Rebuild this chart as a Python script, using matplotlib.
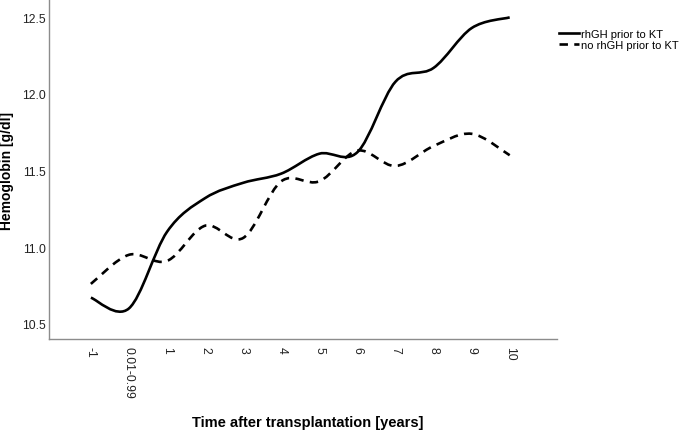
import matplotlib
matplotlib.use("Agg")
import matplotlib.pyplot as plt
from matplotlib.path import Path
from matplotlib.patches import PathPatch
from matplotlib.lines import Line2D
import numpy as np

plt.rcParams["font.family"] = ["Liberation Sans", "DejaVu Sans"]

categorias = ["-1", "0.01-0.99", "1", "2", "3", "4", "5", "6", "7", "8", "9", "10"]
con_rhgh = [10.67, 10.60, 11.10, 11.32, 11.42, 11.48, 11.61, 11.62, 12.08, 12.17, 12.43, 12.50]
sin_rhgh = [10.76, 10.95, 10.91, 11.14, 11.06, 11.43, 11.43, 11.63, 11.53, 11.66, 11.74, 11.60]


def curva_suave(xs, ys):
    # spline tipo Catmull-Rom como curvas bezier cubicas
    p = np.column_stack([xs, ys]).astype(float)
    p_ext = np.vstack([p[0], p, p[-1]])
    verts = [p[0]]
    codes = [Path.MOVETO]
    for i in range(len(p) - 1):
        p0, p1, p2, p3 = p_ext[i], p_ext[i + 1], p_ext[i + 2], p_ext[i + 3]
        c1 = p1 + (p2 - p0) / 6
        c2 = p2 - (p3 - p1) / 6
        verts += [c1, c2, p2]
        codes += [Path.CURVE4] * 3
    return Path(verts, codes)


x = np.arange(len(categorias))
fig = plt.figure(figsize=(6.85, 4.31), dpi=100)
ax = fig.add_axes([0.0715, 0.211, 0.7415, 0.789])

ax.add_patch(PathPatch(curva_suave(x, con_rhgh), fill=False, color="black", lw=1.9,
                       capstyle="butt"))
ax.add_patch(PathPatch(curva_suave(x, sin_rhgh), fill=False, color="black", lw=1.9,
                       linestyle=(0, (3.2, 2.4)), capstyle="butt"))

ax.set_xlim(-1.1, 12.24)
ax.set_ylim(10.40, 12.62)
ax.set_xticks(x)
ax.set_xticklabels(categorias, rotation=-90, va="top", ha="center", fontsize=8.7, color="#222222")
ax.set_yticks([10.5, 11.0, 11.5, 12.0, 12.5])
ax.set_yticklabels(["10.5", "11.0", "11.5", "12.0", "12.5"], fontsize=8.7, color="#222222")
ax.tick_params(axis="x", length=0, pad=5)
ax.tick_params(axis="y", length=0, pad=2.5)
for lado in ["top", "right"]:
    ax.spines[lado].set_visible(False)
for lado in ["left", "bottom"]:
    ax.spines[lado].set_color("#8c8c8c")
    ax.spines[lado].set_linewidth(1.0)

fig.text(0.0095, 0.603, "Hemoglobin [g/dl]", fontsize=10, fontweight="bold",
         rotation=90, ha="center", va="center")
fig.text(0.45, 0.003, "Time after transplantation [years]", fontsize=10.5, fontweight="bold",
         ha="center", va="bottom")

handles = [Line2D([], [], color="black", lw=1.9),
           Line2D([], [], color="black", lw=1.9, linestyle=(0, (3.2, 2.4)))]
fig.legend(handles, ["rhGH prior to KT", "no rhGH prior to KT"], loc="upper left",
           bbox_to_anchor=(0.805, 0.949), frameon=False, fontsize=8,
           handlelength=1.8, handletextpad=0.2, labelspacing=0.12, borderpad=0.2)

plt.savefig("out.png", dpi=100)
